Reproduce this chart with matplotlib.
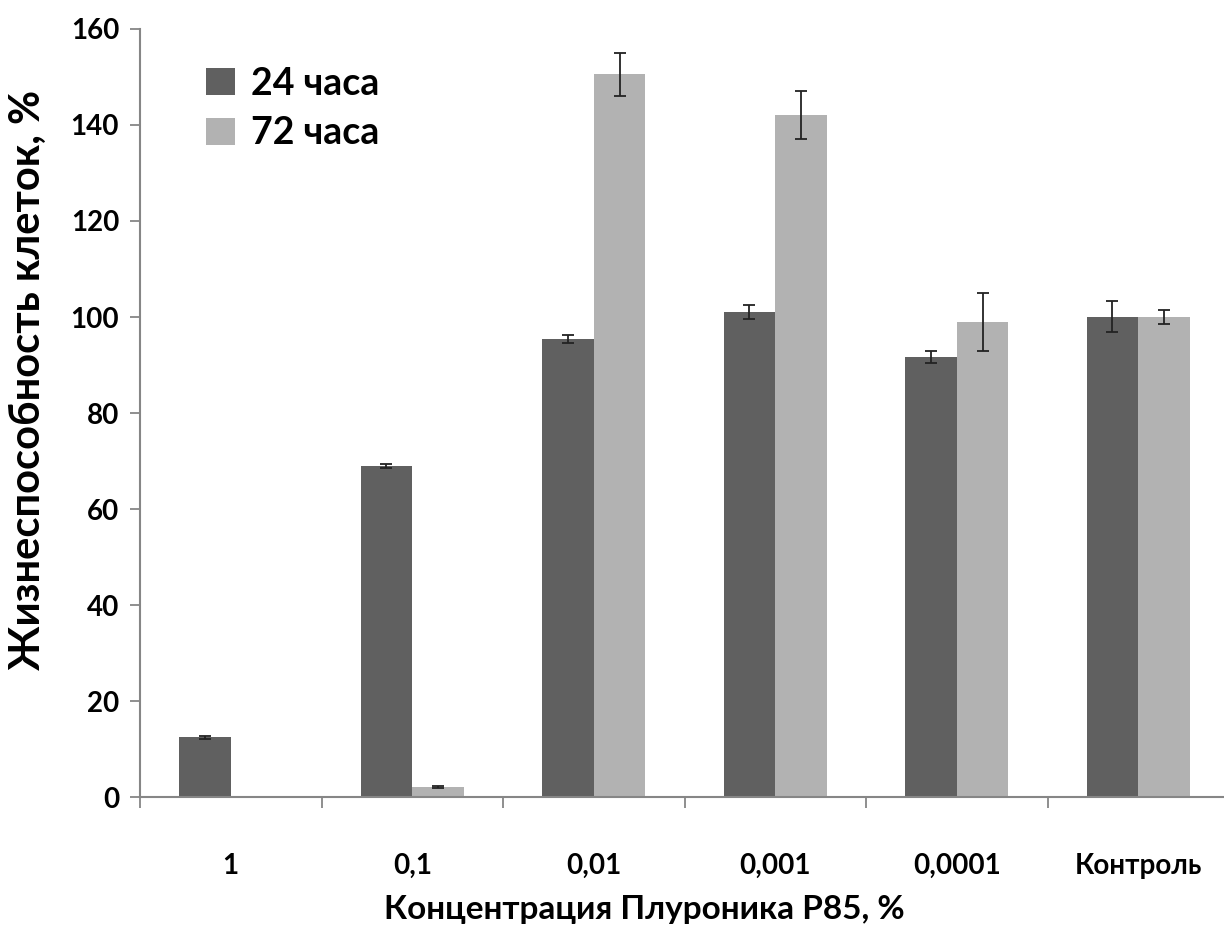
import matplotlib
matplotlib.use("Agg")
import matplotlib.pyplot as plt
import numpy as np

categories = ["1", "0,1", "0,01", "0,001", "0,0001", "Контроль"]
series_names = ["24 часа", "72 часа"]
values_24 = [12.4, 68.9, 95.4, 101.1, 91.7, 100.1]
errors_24 = [0.3, 0.4, 0.9, 1.5, 1.2, 3.3]
values_72 = [0.0, 2.1, 150.6, 142.1, 98.9, 100.0]
errors_72 = [0.0, 0.2, 4.5, 5.0, 6.0, 1.4]
yticks = [0, 20, 40, 60, 80, 100, 120, 140, 160]

plt.rcParams['font.family'] = ['Lato', 'DejaVu Sans']
plt.rcParams['font.weight'] = 'bold'

fig = plt.figure(figsize=(12.24, 9.26), dpi=100)
ax = fig.add_axes([140/1224, 129/926, 1089/1224, 768/926])

x = np.arange(len(categories))
w = 0.285
c24 = "#606060"
c72 = "#b2b2b2"
ax.bar(x - w/2, values_24, width=w, color=c24, label=series_names[0], zorder=2)
ax.bar(x + w/2, values_72, width=w, color=c72, label=series_names[1], zorder=2)
ekw = dict(fmt='none', ecolor="#222222", elinewidth=1.3, capsize=4, capthick=1.3, zorder=3)
ax.errorbar(x - w/2, values_24, yerr=errors_24, **ekw)
mask = np.array(values_72) > 0
ax.errorbar((x + w/2)[mask], np.array(values_72)[mask], yerr=np.array(errors_72)[mask], **ekw)

ax.set_xlim(-0.5, len(categories) - 0.5)
ax.set_ylim(0, 160)
ax.set_yticks(yticks)
ax.tick_params(axis='y', which='major', length=7, width=1.3, color="#868686",
               labelsize=20, pad=8, direction='out')
ax.set_xticks(x)
ax.set_xticklabels(categories)
ax.tick_params(axis='x', which='major', length=0, labelsize=20, pad=40)
ax.set_xticks(np.arange(-0.5, len(categories), 1.0), minor=True)
ax.tick_params(axis='x', which='minor', length=8, width=1.3, color="#868686", direction='out')
for lab in ax.get_xticklabels() + ax.get_yticklabels():
    lab.set_fontweight('bold')

for s in ['top', 'right']:
    ax.spines[s].set_visible(False)
for s in ['left', 'bottom']:
    ax.spines[s].set_color("#868686")
    ax.spines[s].set_linewidth(1.5)

ax.set_ylabel("Жизнеспособность клеток, %", fontsize=30, fontweight='bold', va='center')
ax.yaxis.set_label_coords(-0.103, 0.543)
ax.set_xlabel("Концентрация Плуроника P85, %", fontsize=24, fontweight='bold', va='center')
ax.xaxis.set_label_coords(0.463, -0.147)

leg = ax.legend(loc='upper left', bbox_to_anchor=(0.03, 0.995), frameon=False,
                handlelength=0.75, handleheight=0.75, handletextpad=0.45,
                labelspacing=0.42, prop={'weight': 'bold', 'size': 27})

fig.savefig("out.png", dpi=100)
